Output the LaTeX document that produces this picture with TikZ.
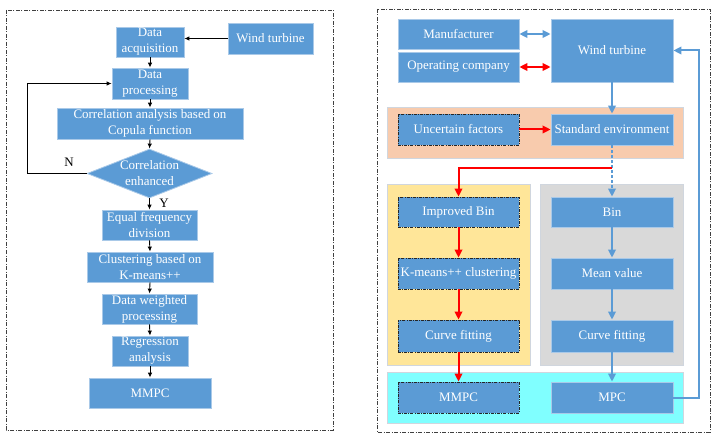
\documentclass[tikz,border=0pt]{standalone}
\usepackage{fontspec}
\setmainfont{Liberation Serif}
\usetikzlibrary{arrows.meta,shapes.geometric}
\definecolor{boxblue}{HTML}{5B9BD5}
\definecolor{boxedge}{HTML}{A9C9E8}
\definecolor{bandorange}{HTML}{F8CBAD}
\definecolor{bandyellow}{HTML}{FFE699}
\definecolor{bandgray}{HTML}{D9D9D9}
\definecolor{bandcyan}{HTML}{80FFFF}
\definecolor{bandedge}{HTML}{D0D6DE}
\definecolor{arrblue}{HTML}{5B9BD5}
\newcommand{\fs}{\fontsize{13}{16}\selectfont}
\tikzset{
  box/.style={rectangle, fill=boxblue, draw=boxedge, line width=0.8bp, text=white, font=\fs, align=center, inner sep=0pt},
  dbox/.style={box, draw=black!85, dash pattern=on 3bp off 1.2bp on 0.8bp off 1.2bp},
  frame/.style={draw=black!75, line width=0.8bp, dash pattern=on 4bp off 1.5bp on 1bp off 1.5bp},
  band/.style={draw=bandedge, line width=0.8bp},
  blk/.style={draw=black, line width=0.9bp, -{Latex[length=5bp,width=4.5bp]}},
  blu/.style={draw=arrblue, line width=2bp, -{Triangle[length=8bp,width=7.5bp]}},
  bludbl/.style={draw=arrblue, line width=2bp, {Triangle[length=8bp,width=7.5bp]}-{Triangle[length=8bp,width=7.5bp]}},
  red/.style={draw=red, line width=2bp, -{Triangle[length=8bp,width=7.5bp]}},
  reddbl/.style={draw=red, line width=2bp, {Triangle[length=8bp,width=7.5bp]}-{Triangle[length=8bp,width=7.5bp]}},
  lbl/.style={font=\fs, text=black, inner sep=0pt}
}
\begin{document}
\begin{tikzpicture}[x=1bp,y=-1bp]
\useasboundingbox (0,0) rectangle (716,441);
% frames
\draw[frame] (6,10) rectangle (333,430);
\draw[frame] (377,9) rectangle (710,432);

% ---------- left flowchart ----------
\node[box, minimum width=68bp, minimum height=30bp] (acq) at (150,42) {Data\\acquisition};
\node[box, minimum width=85bp, minimum height=31bp] (wt1) at (270.5,38.5) {Wind turbine};
\node[box, minimum width=76bp, minimum height=31bp] (proc) at (150,83.5) {Data\\processing};
\node[box, minimum width=186bp, minimum height=31bp] (corr) at (150,123.5) {Correlation analysis based on\\Copula function};
\node[diamond, fill=boxblue, draw=boxedge, line width=0.8bp, inner sep=0pt, minimum width=125bp, minimum height=49bp] (dia) at (149.5,173.5) {};
\node[font=\fs, text=white, align=center, inner sep=0pt] (diat) at (dia.center) {Correlation\\enhanced};
\node[box, minimum width=95bp, minimum height=30bp] (eq) at (149.5,225) {Equal frequency\\division};
\node[box, minimum width=126bp, minimum height=30bp] (clus) at (150,267) {Clustering based on\\K-means++};
\node[box, minimum width=95bp, minimum height=30bp] (wgt) at (149.5,309) {Data weighted\\processing};
\node[box, minimum width=76bp, minimum height=30bp] (reg) at (150,351) {Regression\\analysis};
\node[box, minimum width=122bp, minimum height=30bp] (mmpcL) at (150,393) {MMPC};
\node[lbl] (nlab) at (69,162) {N};
\node[lbl] (ylab) at (164,203) {Y};
\coordinate (lpA) at (27,173.5);
\coordinate (lpB) at (27,83.5);

\draw[blk] (wt1.west) -- (wt1.west -| acq.east);
\draw[blk] (acq.south) -- (proc.north);
\draw[blk] (proc.south) -- (corr.north);
\draw[blk] (corr.south) -- (dia.north);
\draw[blk] (dia.south) -- (eq.north);
\draw[blk] (eq.south) -- (clus.north);
\draw[blk] (clus.south) -- (wgt.north);
\draw[blk] (wgt.south) -- (reg.north);
\draw[blk] (reg.south) -- (mmpcL.north);
\draw[blk] (dia.west) -- (lpA) -- (lpB) -- (proc.west);

% ---------- right diagram ----------
\fill[bandorange] (387,107) rectangle (683,158);
\draw[band] (387,107) rectangle (683,158);
\fill[bandyellow] (387,184) rectangle (530,365);
\draw[band] (387,184) rectangle (530,365);
\fill[bandgray] (540,184) rectangle (683,365);
\draw[band] (540,184) rectangle (683,365);
\fill[bandcyan] (387,372) rectangle (683,423);
\draw[band] (387,372) rectangle (683,423);

\node[box, minimum width=121bp, minimum height=30bp] (manu) at (458.5,34) {Manufacturer};
\node[box, minimum width=121bp, minimum height=30bp] (opco) at (458.5,67) {Operating company};
\node[box, minimum width=122bp, minimum height=63bp] (wt2) at (612,50.5) {Wind turbine};
\node[dbox, minimum width=121bp, minimum height=31bp] (unc) at (458.5,129.5) {Uncertain factors};
\node[box, minimum width=122bp, minimum height=31bp] (std) at (612,129.5) {Standard environment};
\node[dbox, minimum width=121bp, minimum height=30bp] (ib) at (458.5,212) {Improved Bin};
\node[dbox, minimum width=121bp, minimum height=31bp] (km) at (458.5,273.5) {K-means++ clustering};
\node[dbox, minimum width=121bp, minimum height=32bp] (cf1) at (458.5,336) {Curve fitting};
\node[box, minimum width=122bp, minimum height=30bp] (bin) at (612,212) {Bin};
\node[box, minimum width=122bp, minimum height=31bp] (mv) at (612,273.5) {Mean value};
\node[box, minimum width=122bp, minimum height=32bp] (cf2) at (612,336) {Curve fitting};
\node[dbox, minimum width=121bp, minimum height=31bp] (mmpcR) at (458.5,397.5) {MMPC};
\node[box, minimum width=122bp, minimum height=31bp] (mpc) at (612,397.5) {MPC};
\coordinate (rA) at (612,168);
\coordinate (rB) at (458.5,168);
\coordinate (fbA) at (699,397.5);
\coordinate (fbB) at (699,50.5);

\draw[bludbl] (manu.east) -- (manu.east -| wt2.west);
\draw[reddbl] (opco.east) -- (opco.east -| wt2.west);
\draw[blu] (wt2.south) -- (std.north);
\draw[red] (unc.east) -- (std.west);
\draw[blu, dash pattern=on 3bp off 2bp] (std.south) -- (bin.north);
\draw[red] (rA) -- (rB) -- (ib.north);
\draw[red] (ib.south) -- (km.north);
\draw[red] (km.south) -- (cf1.north);
\draw[red] (cf1.south) -- (mmpcR.north);
\draw[blu] (bin.south) -- (mv.north);
\draw[blu] (mv.south) -- (cf2.north);
\draw[blu] (cf2.south) -- (mpc.north);
\draw[blu] (mpc.east) -- (fbA) -- (fbB) -- (wt2.east);
\end{tikzpicture}
\end{document}
